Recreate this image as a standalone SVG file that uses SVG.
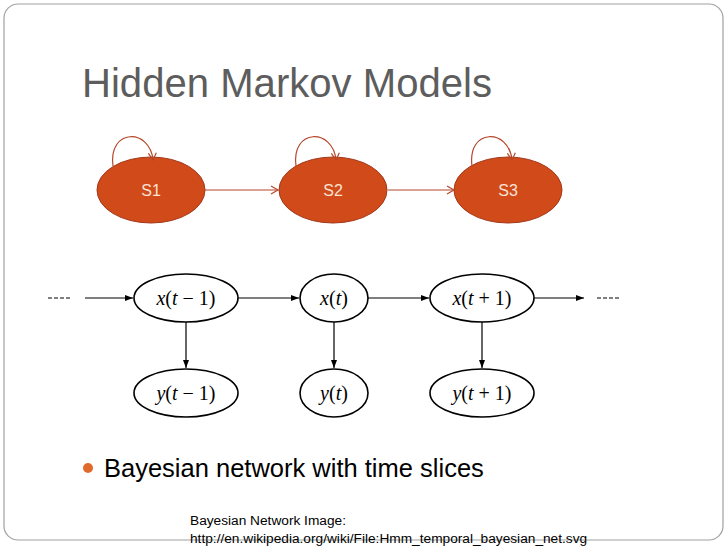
<svg xmlns="http://www.w3.org/2000/svg" width="728" height="546" viewBox="0 0 728 546">
<style>
.s{fill:#d04a1a;stroke:#a3381a;stroke-width:1}
.sl{font-family:"Liberation Sans",Arial,sans-serif;font-size:16px;fill:#fbe3d6;text-anchor:middle}
.oc{stroke:#b5472a;stroke-width:1.2;fill:none}
.n{fill:#fff;stroke:#000;stroke-width:1.6}
.m{font-family:"Liberation Serif","Times New Roman",serif;font-size:20px;text-anchor:middle}
.k{stroke:#000;stroke-width:1.2;fill:none}
</style>
<defs>
<marker id="ao" markerWidth="10" markerHeight="10" refX="8" refY="5" orient="auto" markerUnits="userSpaceOnUse"><path d="M1,1 L8,5 L1,9" fill="none" stroke="#b5472a" stroke-width="1.2"/></marker>
<marker id="ak" markerWidth="10" markerHeight="10" refX="8" refY="5" orient="auto" markerUnits="userSpaceOnUse"><path d="M0,2 L8,5 L0,8 Z" fill="#000"/></marker>
</defs>
<rect width="728" height="546" fill="#fff"/>
<rect x="4" y="4" width="719" height="536" rx="14" fill="none" stroke="#a0a0a0" stroke-width="1.2"/>
<text x="82" y="97" font-family="Liberation Sans,Arial,sans-serif" font-size="40" fill="#5d5d5d" textLength="410" lengthAdjust="spacingAndGlyphs">Hidden Markov Models</text>
<g id="S1"><ellipse class="s" cx="151" cy="190" rx="54" ry="33"/><text class="sl" x="151" y="196">S1</text></g>
<g id="S2"><ellipse class="s" cx="333" cy="190" rx="54" ry="33"/><text class="sl" x="333" y="196">S2</text></g>
<g id="S3"><ellipse class="s" cx="508" cy="190" rx="54" ry="33"/><text class="sl" x="508" y="196">S3</text></g>
<g id="xtm1"><ellipse class="n" cx="186" cy="298" rx="52" ry="24"/><text class="m" x="186" y="305"><tspan font-style="italic">x</tspan>(<tspan font-style="italic">t</tspan> − 1)</text></g>
<g id="xt"><ellipse class="n" cx="334" cy="298" rx="34" ry="24"/><text class="m" x="334" y="305"><tspan font-style="italic">x</tspan>(<tspan font-style="italic">t</tspan>)</text></g>
<g id="xtp1"><ellipse class="n" cx="482" cy="298" rx="52" ry="24"/><text class="m" x="482" y="305"><tspan font-style="italic">x</tspan>(<tspan font-style="italic">t</tspan> + 1)</text></g>
<g id="ytm1"><ellipse class="n" cx="186" cy="393" rx="52" ry="24"/><text class="m" x="186" y="400"><tspan font-style="italic">y</tspan>(<tspan font-style="italic">t</tspan> − 1)</text></g>
<g id="yt"><ellipse class="n" cx="334" cy="393" rx="34" ry="24"/><text class="m" x="334" y="400"><tspan font-style="italic">y</tspan>(<tspan font-style="italic">t</tspan>)</text></g>
<g id="ytp1"><ellipse class="n" cx="482" cy="393" rx="52" ry="24"/><text class="m" x="482" y="400"><tspan font-style="italic">y</tspan>(<tspan font-style="italic">t</tspan> + 1)</text></g>
<g id="connectors">
<path class="oc" d="M113,166 C108,128 150,128 153,160" marker-end="url(#ao)"/>
<path class="oc" d="M296,166 C291,128 333,128 336,160" marker-end="url(#ao)"/>
<path class="oc" d="M472,166 C467,128 509,128 512,160" marker-end="url(#ao)"/>
<line class="oc" x1="205" y1="190" x2="278" y2="190" marker-end="url(#ao)"/>
<line class="oc" x1="388" y1="190" x2="454" y2="190" marker-end="url(#ao)"/>
<line class="k" x1="85" y1="298" x2="133" y2="298" marker-end="url(#ak)"/>
<line class="k" x1="238" y1="298" x2="299" y2="298" marker-end="url(#ak)"/>
<line class="k" x1="368" y1="298" x2="429" y2="298" marker-end="url(#ak)"/>
<line class="k" x1="534" y1="298" x2="584" y2="298" marker-end="url(#ak)"/>
<line class="k" x1="186" y1="322" x2="186" y2="368" marker-end="url(#ak)"/>
<line class="k" x1="334" y1="322" x2="334" y2="368" marker-end="url(#ak)"/>
<line class="k" x1="482" y1="322" x2="482" y2="368" marker-end="url(#ak)"/>
<line x1="48" y1="298" x2="70" y2="298" stroke="#000" stroke-dasharray="4,2"/>
<line x1="597" y1="298" x2="619" y2="298" stroke="#000" stroke-dasharray="4,2"/>
</g>
<circle cx="88" cy="468" r="5" fill="#e06a2c"/>
<text x="104" y="477" font-family="Liberation Sans,Arial,sans-serif" font-size="25.5" fill="#000">Bayesian network with time slices</text>
<text font-family="Liberation Sans,Arial,sans-serif" font-size="13.7" fill="#000"><tspan x="190" y="525">Bayesian Network Image:</tspan><tspan x="190" y="543">http://en.wikipedia.org/wiki/File:Hmm_temporal_bayesian_net.svg</tspan></text>
</svg>
